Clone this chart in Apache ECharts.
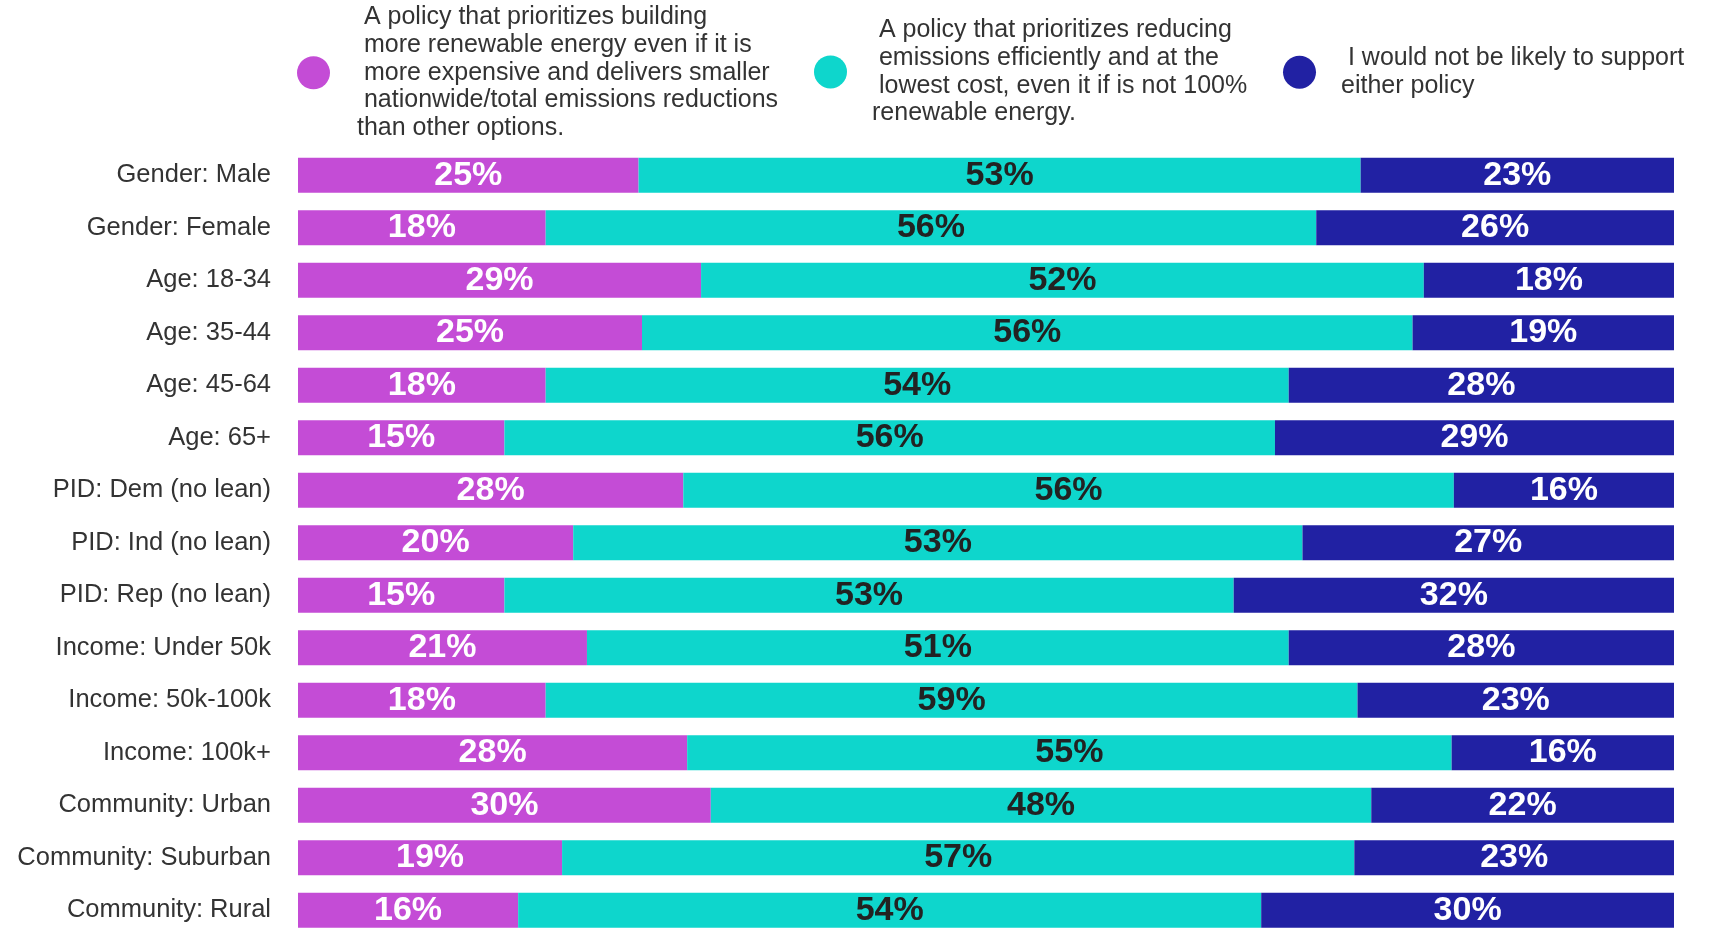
<!DOCTYPE html>
<html>
<head>
<meta charset="utf-8">
<script src="https://cdn.jsdelivr.net/npm/echarts@6/dist/echarts.min.js"></script>
<style>
html,body{margin:0;padding:0;background:#fff;}
#c1{width:1718px;height:928px;}
</style>
</head>
<body>
<div id="c1"></div>
<script>
// row labels, top to bottom
var categories = ['Gender: Male','Gender: Female','Age: 18-34','Age: 35-44','Age: 45-64','Age: 65+',
  'PID: Dem (no lean)','PID: Ind (no lean)','PID: Rep (no lean)','Income: Under 50k','Income: 50k-100k',
  'Income: 100k+','Community: Urban','Community: Suburban','Community: Rural']
var renewable = [25,18,29,25,18,15,28,20,15,21,18,28,30,19,16]
var efficient = [53,56,52,56,54,56,56,53,53,51,59,55,48,57,54]
var neither   = [23,26,18,19,28,29,16,27,32,28,23,16,22,23,30]
var seriesNames = [
  ' A policy that prioritizes building\n more renewable energy even if it is\n more expensive and delivers smaller\n nationwide/total emissions reductions\nthan other options.',
  ' A policy that prioritizes reducing\n emissions efficiently and at the\n lowest cost, even it if is not 100%\nrenewable energy.',
  ' I would not be likely to support\neither policy'
]
var colors = ['#C44CD6','#0ED6CC','#2121A3']

let chart = echarts.init(document.getElementById('c1'))
let raw = [renewable, efficient, neither]
// each bar is drawn as share of its row total so every row fills the width
let totals = categories.map(function(c,i){ return renewable[i]+efficient[i]+neither[i] })

function makeSeries(k){
  return {
    name: seriesNames[k],
    type:'bar',
    stack:'all',
    barCategoryGap:'33.3%',
    itemStyle:{color:colors[k]},
    label:{
      show:true,
      position:'inside',
      color: k===1 ? '#222' : '#fff',
      fontSize:34,
      fontWeight:'bold',
      fontFamily:'Liberation Sans',
      formatter:function(p){ return raw[k][p.dataIndex]+'%' }
    },
    data: raw[k].map(function(v,i){ return v/totals[i]*100 })
  }
}

function makeLegend(k,left,top,pad){
  return {
    show:true,
    data:[{name:seriesNames[k],icon:'circle'}],
    left:left,
    top:top,
    padding:0,
    itemWidth:33,
    itemHeight:33,
    selectedMode:false,
    textStyle:{
      color:'#333',
      fontSize:25,
      lineHeight:27.7,
      fontFamily:'Liberation Sans',
      padding:[0,0,9,pad]
    }
  }
}

let option = {
  backgroundColor:'#fff',
  animation:false,
  legend:[
    makeLegend(0,297,-1,22),
    makeLegend(1,814,12,20),
    makeLegend(2,1283,40,20)
  ],
  grid:{left:298,right:44,top:149,height:787.5,outerBoundsMode:'none',containLabel:false},
  xAxis:{type:'value',min:0,max:100,show:false},
  yAxis:{
    type:'category',
    inverse:true,
    data:categories,
    axisLine:{show:false},
    axisTick:{show:false},
    splitLine:{show:false},
    axisLabel:{color:'#333',fontSize:25.5,fontFamily:'Liberation Sans',margin:27}
  },
  series:[makeSeries(0),makeSeries(1),makeSeries(2)]
}
chart.setOption(option)
</script>
</body>
</html>
